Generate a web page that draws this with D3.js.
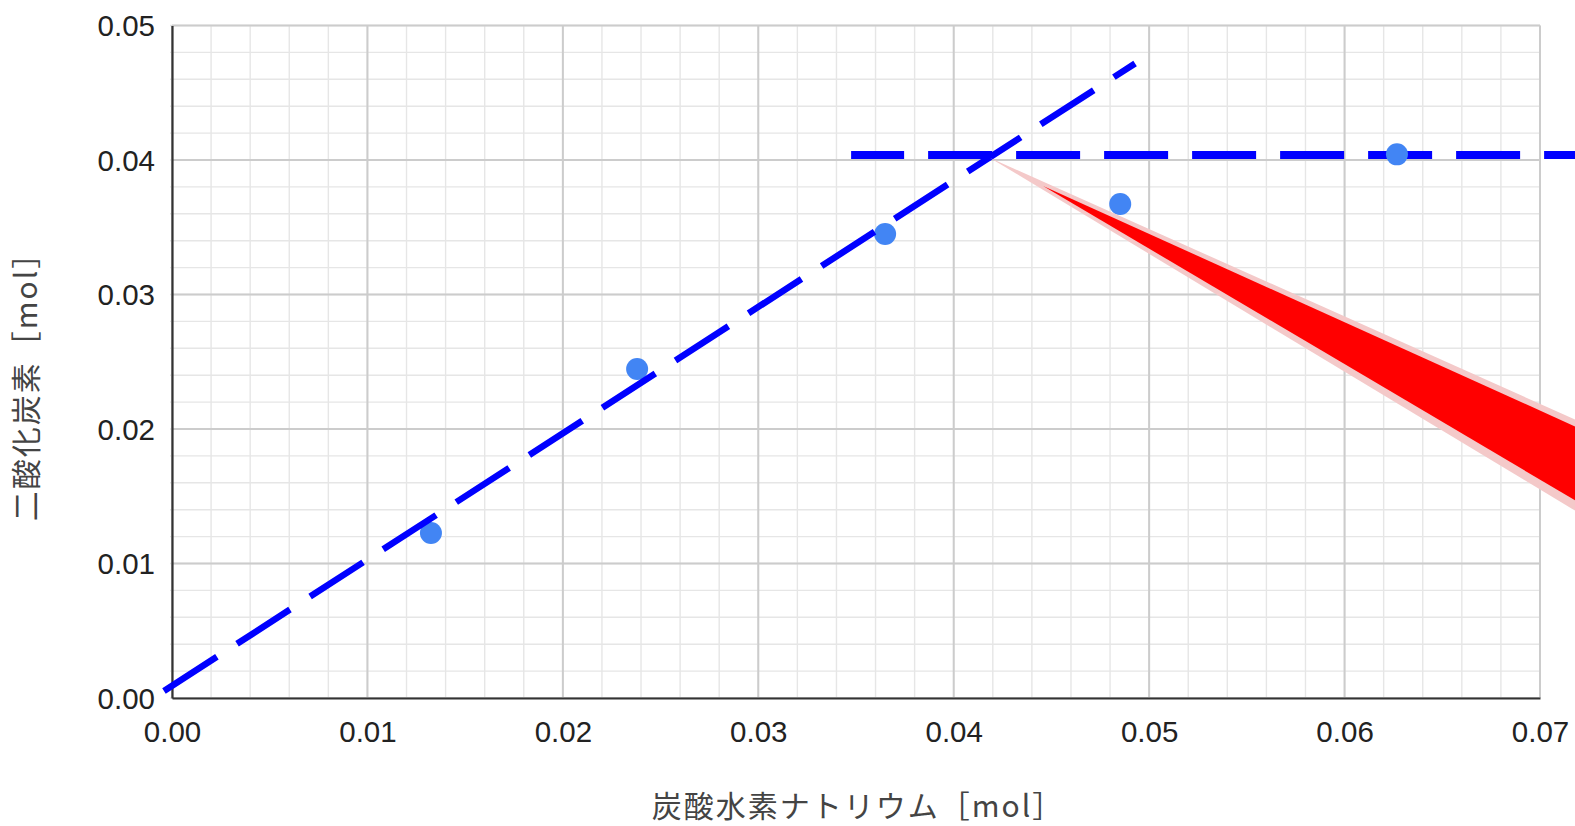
<!DOCTYPE html>
<html>
<head>
<meta charset="utf-8">
<script src="https://cdn.jsdelivr.net/npm/d3@7"></script>
<style>
  body { margin: 0; background: #fff; }
  svg { display: block; }
</style>
</head>
<body>
<svg id="chart" width="1575" height="826"></svg>
<script>
// data
var naHCO3 = [0.01325, 0.0238, 0.03649, 0.04852, 0.06268];
var co2 = [0.01227, 0.02446, 0.0345, 0.03673, 0.04042];
var xTicks = [0, 0.01, 0.02, 0.03, 0.04, 0.05, 0.06, 0.07];
var yTicks = [0, 0.01, 0.02, 0.03, 0.04, 0.05];
var minorStep = 0.002;

// hand drawn overlay, in data units
var trendLine = [[-0.00041, 0.00052], [0.04928, 0.04718]];
var plateauLine = [[0.03475, 0.04037], [0.0735, 0.04037]];
var arrowOuter = [[0.041863, 0.040149], [0.07308, 0.019874], [0.07308, 0.012803]];
var arrowInner = [[0.044575, 0.038067], [0.07308, 0.019346], [0.07308, 0.013591]];

var svg = d3.select("#chart");

var x = d3.scaleLinear().domain([0, 0.07]).range([172, 1540]);
var y = d3.scaleLinear().domain([0, 0.05]).range([698, 25.5]);

var xMinor = d3.range(0, 0.07 + 1e-9, minorStep);
var yMinor = d3.range(0, 0.05 + 1e-9, minorStep);

var grid = svg.append("g");

grid.selectAll(".vmin").data(xMinor).enter().append("line")
    .attr("x1", function(d) { return x(d); })
    .attr("x2", function(d) { return x(d); })
    .attr("y1", y(0)).attr("y2", y(0.05))
    .style("stroke", "#e6e6e6").style("stroke-width", "1.4px");

grid.selectAll(".hmin").data(yMinor).enter().append("line")
    .attr("y1", function(d) { return y(d); })
    .attr("y2", function(d) { return y(d); })
    .attr("x1", x(0) - 2).attr("x2", x(0.07))
    .style("stroke", "#e6e6e6").style("stroke-width", "1.4px");

grid.selectAll(".vmaj").data(xTicks).enter().append("line")
    .attr("x1", function(d) { return x(d); })
    .attr("x2", function(d) { return x(d); })
    .attr("y1", y(0)).attr("y2", y(0.05))
    .style("stroke", "#cccccc").style("stroke-width", "2px");

grid.selectAll(".hmaj").data(yTicks).enter().append("line")
    .attr("y1", function(d) { return y(d); })
    .attr("y2", function(d) { return y(d); })
    .attr("x1", x(0)).attr("x2", x(0.07))
    .style("stroke", "#cccccc").style("stroke-width", "2px");

// axes
var fmt = d3.format(".2f");

var xAxis = svg.append("g")
    .attr("transform", "translate(0," + y(0) + ")")
    .call(d3.axisBottom(x).tickValues(xTicks).tickFormat(fmt).tickSize(0).tickPadding(22));

var yAxis = svg.append("g")
    .attr("transform", "translate(" + x(0) + ",0)")
    .call(d3.axisLeft(y).tickValues(yTicks).tickFormat(fmt).tickSize(0).tickPadding(17));

[xAxis, yAxis].forEach(function(a) {
  a.select(".domain").style("stroke", "#333").style("stroke-width", "2.2px");
  a.selectAll("text")
      .style("font-family", "Arial, 'Liberation Sans', sans-serif")
      .style("font-size", "29.5px")
      .style("fill", "#222");
});
xAxis.selectAll("text").attr("dy", "0.74em");
yAxis.selectAll("text").attr("dy", "0.35em");

// axis titles
svg.append("text")
    .attr("x", 858).attr("y", 817)
    .attr("text-anchor", "middle")
    .style("font-family", "'Noto Sans CJK JP', sans-serif")
    .style("font-size", "30px")
    .style("letter-spacing", "2px")
    .style("fill", "#444")
    .text("炭酸水素ナトリウム［mol］");

svg.append("text")
    .attr("transform", "translate(37,379) rotate(-90)")
    .attr("text-anchor", "middle")
    .style("font-family", "'Noto Sans CJK JP', sans-serif")
    .style("font-size", "30px")
    .style("letter-spacing", "2px")
    .style("fill", "#444")
    .text("二酸化炭素［mol］");

var line = d3.line()
    .x(function(d) { return x(d[0]); })
    .y(function(d) { return y(d[1]); });

// flat dashed line sits under the dots
svg.append("path")
    .attr("d", line(plateauLine))
    .style("stroke", "#0000ff")
    .style("fill", "none")
    .style("stroke-width", "8px")
    .style("stroke-dasharray", "64,24")
    .style("stroke-dashoffset", "11");

svg.selectAll(".pt").data(naHCO3).enter().append("circle")
    .attr("cx", function(d) { return x(d); })
    .attr("cy", function(d, i) { return y(co2[i]); })
    .attr("r", 11)
    .style("fill", "#4285f4");

svg.append("path")
    .attr("d", line(trendLine))
    .style("stroke", "#0000ff")
    .style("fill", "none")
    .style("stroke-width", "6.5px")
    .style("stroke-dasharray", "63,24");

svg.append("path")
    .attr("d", line(arrowOuter) + "Z")
    .style("fill", "#f4c9c9");

svg.append("path")
    .attr("d", line(arrowInner) + "Z")
    .style("fill", "#ff0000");
</script>
</body>
</html>
